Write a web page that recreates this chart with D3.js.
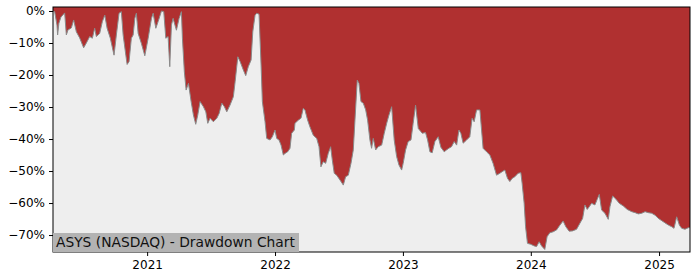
<!DOCTYPE html>
<html lang="en">
<head>
    <meta charset="UTF-8">
    <title>ASYS Drawdown Chart</title>
    <script src="https://cdn.jsdelivr.net/npm/d3@7/dist/d3.min.js"></script>
    <style>
        body { margin: 0; background: #fff; }
        text { font-family: "DejaVu Sans", sans-serif; }
    </style>
</head>
<body>
<script type="application/javascript">
    // dates as decimal years, drawdown in %
    const years = [
        2020.266, 2020.279, 2020.297, 2020.302, 2020.312, 2020.328, 2020.357, 2020.370, 2020.383, 2020.409,
        2020.427, 2020.448, 2020.474, 2020.505, 2020.526, 2020.552, 2020.573, 2020.591, 2020.604, 2020.630,
        2020.651, 2020.670, 2020.688, 2020.713, 2020.742, 2020.760, 2020.781, 2020.799, 2020.813, 2020.834,
        2020.844, 2020.859, 2020.877, 2020.891, 2020.904, 2020.916, 2020.930, 2020.955, 2020.982, 2021.008,
        2021.034, 2021.047, 2021.068, 2021.086, 2021.112, 2021.130, 2021.146, 2021.164, 2021.177, 2021.190,
        2021.203, 2021.229, 2021.250, 2021.268, 2021.276, 2021.291, 2021.305, 2021.323, 2021.344, 2021.362,
        2021.380, 2021.396, 2021.414, 2021.440, 2021.459, 2021.474, 2021.492, 2021.518, 2021.545, 2021.563,
        2021.584, 2021.604, 2021.623, 2021.648, 2021.674, 2021.688, 2021.709, 2021.727, 2021.752, 2021.771,
        2021.791, 2021.813, 2021.826, 2021.844, 2021.857, 2021.875, 2021.891, 2021.901, 2021.922, 2021.935,
        2021.961, 2021.979, 2022.000, 2022.013, 2022.031, 2022.047, 2022.065, 2022.078, 2022.099, 2022.117,
        2022.130, 2022.151, 2022.156, 2022.182, 2022.203, 2022.221, 2022.234, 2022.255, 2022.273, 2022.299,
        2022.326, 2022.344, 2022.359, 2022.377, 2022.396, 2022.416, 2022.435, 2022.448, 2022.463, 2022.482,
        2022.508, 2022.534, 2022.552, 2022.573, 2022.594, 2022.612, 2022.625, 2022.643, 2022.656, 2022.672,
        2022.690, 2022.709, 2022.724, 2022.742, 2022.755, 2022.768, 2022.787, 2022.807, 2022.834, 2022.854,
        2022.873, 2022.891, 2022.912, 2022.932, 2022.951, 2022.969, 2022.990, 2023.002, 2023.021, 2023.041,
        2023.063, 2023.080, 2023.099, 2023.120, 2023.141, 2023.151, 2023.177, 2023.193, 2023.211, 2023.229,
        2023.250, 2023.276, 2023.297, 2023.323, 2023.341, 2023.359, 2023.380, 2023.401, 2023.420, 2023.438,
        2023.453, 2023.471, 2023.498, 2023.523, 2023.541, 2023.557, 2023.576, 2023.602, 2023.615, 2023.627,
        2023.654, 2023.680, 2023.705, 2023.732, 2023.758, 2023.776, 2023.797, 2023.818, 2023.836, 2023.854,
        2023.875, 2023.901, 2023.922, 2023.932, 2023.948, 2023.959, 2023.974, 2024.000, 2024.026, 2024.045,
        2024.065, 2024.084, 2024.109, 2024.127, 2024.148, 2024.174, 2024.201, 2024.227, 2024.252, 2024.273,
        2024.299, 2024.326, 2024.357, 2024.383, 2024.404, 2024.422, 2024.440, 2024.455, 2024.474, 2024.500,
        2024.518, 2024.534, 2024.552, 2024.578, 2024.604, 2024.617, 2024.638, 2024.664, 2024.690, 2024.721,
        2024.752, 2024.787, 2024.813, 2024.838, 2024.865, 2024.891, 2024.916, 2024.943, 2024.969, 2024.995,
        2025.021, 2025.047, 2025.073, 2025.099, 2025.117, 2025.138, 2025.159, 2025.177, 2025.203, 2025.229,
        2025.242
    ];
    const drawdown = [
        0.0, -0.2, -4.4, -7.5, -3.8, -1.9, -0.6, -7.5, -5.9, -5.3,
        -2.8, -6.5, -8.4, -11.5, -10.0, -8.0, -8.5, -5.4, -8.0, -7.0,
        -3.3, -1.3, -5.4, -8.5, -13.8, -7.5, -0.7, -0.2, -7.5, -13.8,
        -16.7, -15.8, -8.5, -7.5, -2.3, -0.7, -7.0, -10.1, -14.0, -8.5,
        -2.3, -0.7, -5.4, -3.3, 0.0, -0.2, -8.5, -8.0, -17.4, -4.4,
        -2.3, -6.0, -2.3, -0.2, -8.5, -19.0, -24.7, -22.6, -28.3, -32.5,
        -35.4, -32.5, -28.3, -29.9, -31.5, -35.1, -33.5, -34.6, -33.5, -32.0,
        -28.8, -29.9, -31.5, -29.4, -26.8, -22.1, -14.3, -15.8, -18.4, -20.2,
        -17.4, -15.3, -6.5, -1.3, -0.7, -1.0, -16.9, -28.3, -34.6, -39.8,
        -40.3, -39.3, -37.2, -39.8, -40.3, -41.9, -45.0, -44.5, -44.0, -42.9,
        -38.2, -37.2, -35.1, -34.1, -33.5, -30.4, -30.9, -34.1, -36.2, -38.8,
        -39.8, -42.4, -48.7, -47.1, -47.6, -44.5, -42.4, -46.6, -50.7, -51.3,
        -52.8, -54.4, -51.8, -51.3, -47.6, -43.4, -34.1, -21.6, -22.6, -28.3,
        -28.8, -30.9, -34.1, -40.3, -42.9, -39.8, -43.4, -42.4, -41.9, -38.2,
        -35.1, -32.5, -29.9, -40.3, -45.5, -48.1, -49.7, -47.6, -43.4, -40.8,
        -40.3, -35.1, -29.4, -36.7, -37.7, -38.2, -38.0, -40.3, -44.0, -44.3,
        -40.8, -39.3, -42.6, -44.0, -43.4, -42.9, -42.4, -40.8, -41.9, -37.2,
        -38.2, -41.3, -40.3, -39.3, -33.5, -34.6, -30.9, -30.9, -37.2, -42.9,
        -44.0, -45.0, -47.6, -51.3, -50.7, -50.2, -49.7, -52.3, -53.3, -52.3,
        -51.8, -50.7, -50.5, -53.8, -60.1, -67.4, -72.6, -72.9, -73.4, -73.6,
        -72.1, -73.4, -74.5, -70.5, -69.3, -69.0, -68.4, -66.9, -65.6, -67.4,
        -68.8, -68.7, -68.2, -66.3, -64.8, -60.6, -62.0, -61.2, -60.1, -60.6,
        -58.8, -57.3, -62.2, -63.2, -65.1, -61.2, -57.8, -58.8, -60.1, -60.9,
        -62.0, -62.7, -63.0, -63.4, -63.2, -62.7, -63.0, -63.2, -63.8, -64.8,
        -65.5, -66.2, -66.9, -67.4, -67.9, -64.3, -66.9, -67.9, -68.2, -67.7,
        -67.7
    ];
    const yTicks = [0, -10, -20, -30, -40, -50, -60, -70];
    const xTickYears = [2021, 2022, 2023, 2024, 2025];
    const title = 'ASYS (NASDAQ) - Drawdown Chart';

    const w = 700, h = 280;
    const margin = {left: 53, right: 10, top: 7, bottom: 28};

    // 小数年份 -> Date
    const toDate = yr => {
        const y0 = Math.floor(yr);
        const a = Date.UTC(y0, 0, 1), b = Date.UTC(y0 + 1, 0, 1);
        return new Date(a + (yr - y0) * (b - a));
    };
    const data = years.map((yr, i) => ({date: toDate(yr), dd: drawdown[i]}));

    let svg = d3.select('body')
        .append('svg')
        .attr('width', w)
        .attr('height', h);

    let xScale = d3.scaleUtc()
        .domain([toDate(years[0]), toDate(years[years.length - 1])])
        .range([margin.left, w - margin.right]);

    let yScale = d3.scaleLinear()
        .domain([-75.3, 1.25])
        .range([h - margin.bottom, margin.top]);

    // plot background
    svg.append('rect')
        .attr('x', margin.left)
        .attr('y', margin.top)
        .attr('width', w - margin.left - margin.right)
        .attr('height', h - margin.top - margin.bottom)
        .attr('fill', '#eeeeee');

    // drawdown area, filled from the top of the axes
    let area = d3.area()
        .x(d => xScale(d.date))
        .y0(yScale(1.25))
        .y1(d => yScale(d.dd));
    svg.append('path')
        .datum(data)
        .attr('d', area)
        .attr('fill', '#b03030');

    let line = d3.line()
        .x(d => xScale(d.date))
        .y(d => yScale(d.dd));
    svg.append('path')
        .datum(data)
        .attr('d', line)
        .attr('fill', 'none')
        .attr('stroke', '#8a8a8a')
        .attr('stroke-width', 1);

    // axes
    let xAxis = d3.axisBottom(xScale)
        .tickValues(xTickYears.map(y => new Date(Date.UTC(y, 0, 1))))
        .tickFormat(d3.utcFormat('%Y'))
        .tickSize(4)
        .tickPadding(4);
    let gx = svg.append('g')
        .attr('transform', 'translate(0,' + (h - margin.bottom) + ')')
        .call(xAxis);

    let yAxis = d3.axisLeft(yScale)
        .tickValues(yTicks)
        .tickFormat(d => (d < 0 ? '\u2212' + (-d) : d) + '%')
        .tickSize(4)
        .tickPadding(4);
    let gy = svg.append('g')
        .attr('transform', 'translate(' + margin.left + ',0)')
        .call(yAxis);

    [gx, gy].forEach(g => {
        g.select('.domain').remove();
        g.selectAll('line').attr('stroke', '#000').attr('stroke-width', 1);
        g.selectAll('text')
            .attr('fill', '#000')
            .attr('font-size', '12px')
            .attr('font-family', '"DejaVu Sans", sans-serif');
    });

    // frame
    svg.append('rect')
        .attr('x', margin.left)
        .attr('y', margin.top)
        .attr('width', w - margin.left - margin.right)
        .attr('height', h - margin.top - margin.bottom)
        .attr('fill', 'none')
        .attr('stroke', '#000')
        .attr('stroke-width', 1);

    // title box
    svg.append('rect')
        .attr('x', margin.left)
        .attr('y', 233)
        .attr('width', 246)
        .attr('height', h - margin.bottom - 233)
        .attr('fill', '#b3b3b3');
    svg.append('text')
        .attr('x', margin.left + 3)
        .attr('y', 247)
        .attr('font-size', '13.8px')
        .attr('fill', '#111')
        .text(title);
</script>
</body>
</html>
